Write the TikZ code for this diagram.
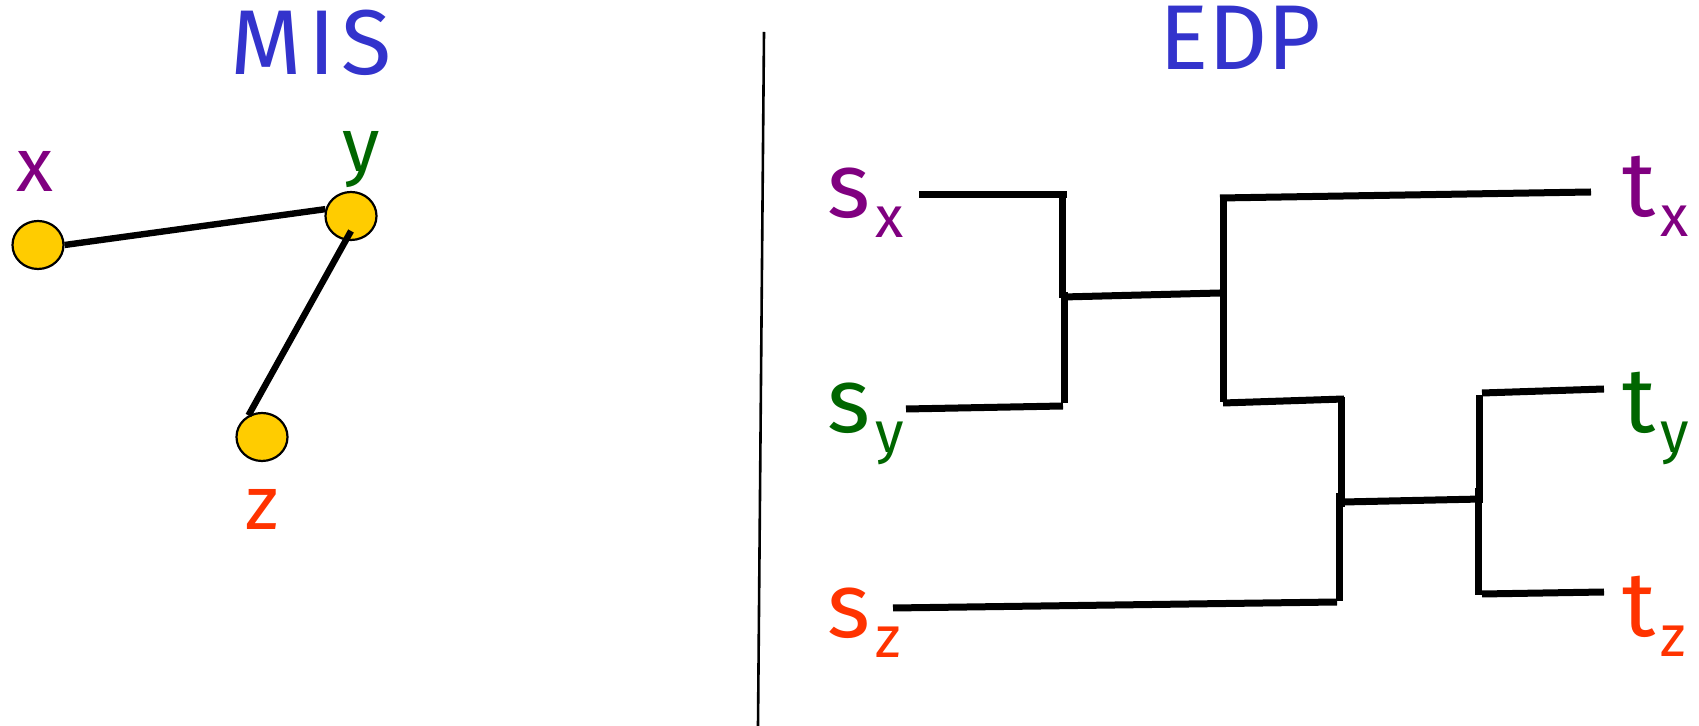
\documentclass[tikz,border=0pt]{standalone}
\usepackage{fontspec}
\setmainfont{Fira Sans}
\usetikzlibrary{shapes.geometric}
\definecolor{tblue}{HTML}{3333CC}
\definecolor{tpurple}{HTML}{800080}
\definecolor{tgreen}{HTML}{006600}
\definecolor{tred}{HTML}{FF3300}
\definecolor{tyellow}{HTML}{FFCC00}
\newcommand{\lab}[2]{#1\hspace{2.5pt}\raisebox{-10pt}{\fontsize{29}{29}\selectfont #2}}
\tikzset{
  title/.style={font=\fontsize{46}{46}\selectfont, text=tblue, anchor=base, inner sep=0pt},
  vlabel/.style={font=\fontsize{38}{38}\selectfont, anchor=base, inner sep=0pt},
  plabel/.style={font=\fontsize{46}{46}\selectfont, anchor=base west, inner sep=0pt},
  vertex/.style={ellipse, draw=black, line width=1.1pt, fill=tyellow, minimum width=25.5pt, minimum height=24pt, inner sep=0pt},
  edge/.style={line width=3.2pt, black},
  wire/.style={line width=3.5pt, black},
  divider/.style={line width=1.3pt, black}
}
\begin{document}
\begin{tikzpicture}[x=0.5pt,y=-0.5pt]
\useasboundingbox (0,0) rectangle (1699,726);
% ---------- MIS ----------
\node[title] (mis) at (311,75) {\addfontfeatures{LetterSpace=7}MIS};
\node[vertex] (x) at (38,245) {};
\node[vertex] (y) at (351,216) {};
\node[vertex] (z) at (262,437) {};
\node[vlabel, text=tpurple] (xl) at (35,192) {x};
\node[vlabel, text=tgreen] (yl) at (361,172) {y};
\node[vlabel, text=tred] (zl) at (262,530) {z};
\draw[edge] (x.east) -- (y.165);
\draw[edge] ([yshift=-7.5pt]y.center) -- (z.122);
% ---------- divider ----------
\coordinate (d1) at (764,32);
\coordinate (d2) at (758,726);
\draw[divider] (d1) -- (d2);
% ---------- EDP ----------
\node[title] (edp) at (1240,70) {EDP};
\node[plabel, text=tpurple] (sx) at (827,218) {\lab{s}{x}};
\node[plabel, text=tgreen] (sy) at (827,433) {\lab{s}{y}};
\node[plabel, text=tred] (sz) at (827,638) {\lab{s}{z}};
\node[plabel, text=tpurple] (tx) at (1622,217) {\lab{t}{x}};
\node[plabel, text=tgreen] (ty) at (1622,433) {\lab{t}{y}};
\node[plabel, text=tred] (tz) at (1622,637) {\lab{t}{z}};
% corner points
\coordinate (a1) at (919,195);
\coordinate (a2) at (1067,195);
\coordinate (b1) at (1062,193);
\coordinate (b2) at (1062,298);
\coordinate (b3) at (1064,292);
\coordinate (b4) at (1064,403);
\coordinate (c1) at (906,409);
\coordinate (c2) at (1063,406);
\coordinate (m1) at (1063,297);
\coordinate (m2) at (1220,293);
\coordinate (e1) at (1223,195);
\coordinate (e2) at (1223,308);
\coordinate (e3) at (1223,305);
\coordinate (e4) at (1223,402);
\coordinate (f1) at (1220,198);
\coordinate (f2) at (1591,192);
\coordinate (g1) at (1223,403);
\coordinate (g2) at (1344,399);
\coordinate (h1) at (1341,397);
\coordinate (h2) at (1341,507);
\coordinate (h3) at (1339,493);
\coordinate (h4) at (1339,601);
\coordinate (i1) at (893,608);
\coordinate (i2) at (1337,602);
\coordinate (j1) at (1343,502);
\coordinate (j2) at (1482,499);
\coordinate (k1) at (1479,395);
\coordinate (k2) at (1479,503);
\coordinate (k3) at (1478,488);
\coordinate (k4) at (1478,595);
\coordinate (l1) at (1482,393);
\coordinate (l2) at (1604,389);
\coordinate (n1) at (1482,594);
\coordinate (n2) at (1604,592);
\draw[wire] (a1) -- (a2);
\draw[wire] (b1) -- (b2);
\draw[wire] (b3) -- (b4);
\draw[wire] (c1) -- (c2);
\draw[wire] (m1) -- (m2);
\draw[wire] (e1) -- (e2);
\draw[wire] (e3) -- (e4);
\draw[wire] (f1) -- (f2);
\draw[wire] (g1) -- (g2);
\draw[wire] (h1) -- (h2);
\draw[wire] (h3) -- (h4);
\draw[wire] (i1) -- (i2);
\draw[wire] (j1) -- (j2);
\draw[wire] (k1) -- (k2);
\draw[wire] (k3) -- (k4);
\draw[wire] (l1) -- (l2);
\draw[wire] (n1) -- (n2);
\end{tikzpicture}
\end{document}
